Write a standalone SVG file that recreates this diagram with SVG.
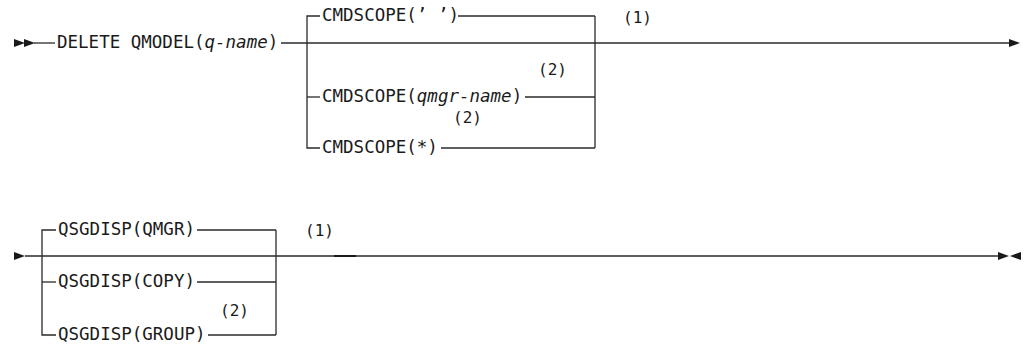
<svg xmlns="http://www.w3.org/2000/svg" xmlns:xlink="http://www.w3.org/1999/xlink" width="1024" height="347" viewBox="0 0 1024 347">
<style>
  .t { font-family: "DejaVu Sans Mono", "Liberation Mono", monospace; font-size: 17.5px; fill: #1a1a1a; }
  .n { font-family: "DejaVu Sans Mono", "Liberation Mono", monospace; font-size: 16px; fill: #1a1a1a; }
  .i { font-style: italic; }
  .ln { stroke: #2a2a2a; stroke-width: 1.3; fill: none; }
  .ah { fill: #1a1a1a; }
</style>
<defs>
  <polygon id="tri-r" points="0,-4 11,0 0,4" class="ah"/>
  <polygon id="tri-l" points="0,-4 -11,0 0,4" class="ah"/>
</defs>
<rect width="1024" height="347" fill="#ffffff"/>
<g id="connectors">
  <!-- row 1 -->
  <use xlink:href="#tri-r" x="14" y="43"/>
  <use xlink:href="#tri-r" x="24" y="43"/>
  <line class="ln" x1="34" y1="43" x2="55" y2="43"/>
  <line class="ln" x1="281" y1="43" x2="1010" y2="43"/>
  <use xlink:href="#tri-r" x="1009" y="43"/>
  <path class="ln" d="M320,16 H307 V148 H320"/>
  <line class="ln" x1="307" y1="97" x2="320" y2="97"/>
  <line class="ln" x1="458" y1="16" x2="595" y2="16"/>
  <line class="ln" x1="525" y1="97" x2="595" y2="97"/>
  <line class="ln" x1="441" y1="148" x2="595" y2="148"/>
  <line class="ln" x1="595" y1="16" x2="595" y2="148"/>
  <!-- row 2 -->
  <use xlink:href="#tri-r" x="14" y="256"/>
  <line class="ln" x1="25" y1="256" x2="999" y2="256"/>
  <line x1="334" y1="256" x2="356" y2="256" stroke="#1a1a1a" stroke-width="2"/>
  <use xlink:href="#tri-r" x="998" y="256"/>
  <use xlink:href="#tri-l" x="1021" y="256"/>
  <path class="ln" d="M56,230 H42 V335 H56"/>
  <line class="ln" x1="42" y1="282" x2="56" y2="282"/>
  <line class="ln" x1="197" y1="230" x2="276" y2="230"/>
  <line class="ln" x1="197" y1="282" x2="276" y2="282"/>
  <line class="ln" x1="208" y1="335" x2="276" y2="335"/>
  <line class="ln" x1="276" y1="230" x2="276" y2="335"/>
</g>
<g id="node-delete"><text class="t" x="57" y="48">DELETE QMODEL(<tspan class="i">q-name</tspan>)</text></g>
<g id="node-cmdscope-blank"><text class="t" x="322" y="21">CMDSCOPE(’ ’)</text></g>
<g id="note-1a"><text class="n" x="623" y="23">(1)</text></g>
<g id="node-cmdscope-qmgr"><text class="t" x="322" y="102">CMDSCOPE(<tspan class="i">qmgr-name</tspan>)</text></g>
<g id="note-2a"><text class="n" x="538" y="75">(2)</text></g>
<g id="node-cmdscope-star"><text class="t" x="322" y="153">CMDSCOPE(*)</text></g>
<g id="note-2b"><text class="n" x="453" y="123">(2)</text></g>
<g id="node-qsgdisp-qmgr"><text class="t" x="58" y="235">QSGDISP(QMGR)</text></g>
<g id="note-1b"><text class="n" x="305" y="236">(1)</text></g>
<g id="node-qsgdisp-copy"><text class="t" x="58" y="287">QSGDISP(COPY)</text></g>
<g id="node-qsgdisp-group"><text class="t" x="58" y="340">QSGDISP(GROUP)</text></g>
<g id="note-2c"><text class="n" x="220" y="316">(2)</text></g>
</svg>
